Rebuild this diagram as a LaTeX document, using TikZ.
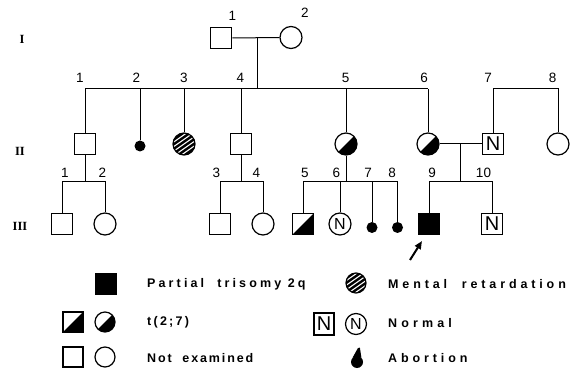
\documentclass[tikz,border=0pt]{standalone}
\usepackage{fontspec}
\setmainfont{Liberation Sans}
\newfontfamily\legfont{Liberation Sans}
\newfontfamily\romfont{Liberation Serif}
\usetikzlibrary{arrows.meta}
\tikzset{
  sq/.style={draw,line width=1.2pt,minimum size=21.5pt,inner sep=0pt},
  ci/.style={circle,draw,line width=1.2pt,minimum size=22pt,inner sep=0pt},
  dotab/.style={circle,fill=black,minimum size=11pt,inner sep=0pt},
  half/.style={path picture={\fill (path picture bounding box.south west) -- (path picture bounding box.south east) -- (path picture bounding box.north east) -- cycle;}},
  hatch/.style={path picture={\fill[black] (path picture bounding box.south west) rectangle (path picture bounding box.north east);
     \foreach \k in {-5,...,5}{\draw[white,line width=1.1pt] ([shift={(-16pt,-11.2pt+\k*4.6pt)}]path picture bounding box.center) -- ++(32pt,22.4pt);}}},
  num/.style={font=\fontsize{13.5}{14}\selectfont,inner sep=0pt},
  gen/.style={font=\romfont\bfseries\fontsize{12.5}{13}\selectfont,inner sep=0pt},
  leg/.style={font=\legfont\bfseries\fontsize{12.5}{14}\selectfont\addfontfeature{LetterSpace=#1},inner sep=0pt,anchor=west},
  Nbig/.style={font=\fontsize{20}{20}\selectfont},
  Nsmall/.style={font=\fontsize{16}{16}\selectfont},
  ln/.style={line width=1pt},
  arr/.style={line width=2pt,-{Triangle[length=8pt,width=6.5pt]}}
}
\begin{document}
\begin{tikzpicture}[x=1pt,y=-1pt]
\useasboundingbox (0,0) rectangle (573,374);
% generation labels
\node[gen] (gI) at (22,39) {I};
\node[gen] (gII) at (20,151) {II};
\node[gen] (gIII) at (20,226) {III};
% generation I
\node[sq] (I1) at (221,38) {};
\node[ci] (I2) at (291,37.5) {};
\node[num] (lI1) at (232.5,15.5) {1};
\node[num] (lI2) at (305,13) {2};
\coordinate (sibII) at (0,89);
\coordinate (sibIII) at (0,182);
\coordinate (mI) at (257,38);
\draw[ln] (I1.east) -- (I2.west);
\draw[ln] (mI) -- (mI |- sibII);
% generation II
\node[sq] (II1) at (85,144) {};
\node[dotab] (II2) at (140,146) {};
\node[ci,hatch] (II3) at (184,144) {};
\node[sq] (II4) at (241,144) {};
\node[ci,half] (II5) at (346,144) {};
\node[ci,half] (II6) at (428,144) {};
\node[sq,Nbig] (II7) at (493,144) {N};
\node[ci] (II8) at (558,144) {};
\foreach \n/\x in {1/80,2/136.5,3/184,4/240.5,5/345.5,6/424,7/488,8/552.5}
  \node[num] (lII\n) at (\x,77.5) {\n};
\draw[ln] (II1.north |- sibII) -- (II6.north |- sibII);
\foreach \n in {1,2,3,4,5,6} \draw[ln] (II\n.north) -- (II\n.north |- sibII);
\draw[ln] (II7.north) -- (II7.north |- sibII) -- (II8.north |- sibII) -- (II8.north);
\draw[ln] (II6.east) -- (II7.west);
\coordinate (mII) at (460,144);
\draw[ln] (mII) -- (mII |- sibIII);
% generation III
\node[sq] (III1) at (62,224) {};
\node[ci] (III2) at (105,224) {};
\node[sq] (III3) at (220,224) {};
\node[ci] (III4) at (263,224) {};
\node[sq,half] (III5) at (303,224) {};
\node[ci,Nsmall] (III6) at (340,224) {N};
\node[dotab] (III7) at (372,227.5) {};
\node[dotab] (III8) at (397.5,227.5) {};
\node[sq,fill=black] (III9) at (429,224) {};
\node[sq,Nbig] (III10) at (492,224) {N};
\foreach \n/\x in {1/65,2/102.5,3/216.5,4/256.5,5/305,6/336.5,7/368,8/392,9/432,10/483.5}
  \node[num] (lIII\n) at (\x,172.5) {\n};
\draw[ln] (II1.south) -- (II1.south |- sibIII);
\draw[ln] (III1.north) -- (III1.north |- sibIII) -- (III2.north |- sibIII) -- (III2.north);
\draw[ln] (II4.south) -- (II4.south |- sibIII);
\draw[ln] (III3.north) -- (III3.north |- sibIII) -- (III4.north |- sibIII) -- (III4.north);
\draw[ln] (II5.south) -- (II5.south |- sibIII);
\draw[ln] (III5.north |- sibIII) -- (III8.north |- sibIII);
\foreach \n in {5,6,7,8} \draw[ln] (III\n.north) -- (III\n.north |- sibIII);
\draw[ln] (III9.north) -- (III9.north |- sibIII) -- (III10.north |- sibIII) -- (III10.north);
% proband arrow
\coordinate (arS) at (410,260);
\coordinate (arE) at (422,241);
\draw[arr] (arS) -- (arE);
% legend
\node[sq,fill=black,minimum size=21pt] (Lpt) at (106,284) {};
\node[leg=25] (tpt) at (147,284) {Partial\ \ trisomy 2q};
\node[sq,half,minimum size=20pt] (Lts) at (73,322) {};
\node[ci,half,minimum size=20pt] (Ltc) at (105,322) {};
\node[leg=18] (tt) at (147,322) {t(2;7)};
\node[sq,minimum size=20pt] (Lns) at (73,357) {};
\node[ci,minimum size=20pt] (Lnc) at (105,357) {};
\node[leg=15] (tne) at (147,358) {Not\ \ examined};
\node[ci,hatch,minimum size=20pt] (Lmr) at (356,283) {};
\node[leg=31] (tmr) at (388,284) {Mental\ \ retardation};
\node[sq,Nbig,minimum width=20pt,minimum height=22pt] (LNs) at (324,324) {N};
\node[ci,Nsmall,minimum size=21pt] (LNc) at (356,324) {N};
\node[leg=33] (tn) at (388,323) {Normal};
\node[dotab,minimum size=12pt] (Lab) at (357,362) {};
\fill (Lab.north west) -- (Lab.north east) -- ++(-1.5,-10) -- ++(-2,0.5) -- cycle;
\node[leg=31] (tab) at (388,358) {Abortion};
\end{tikzpicture}
\end{document}
